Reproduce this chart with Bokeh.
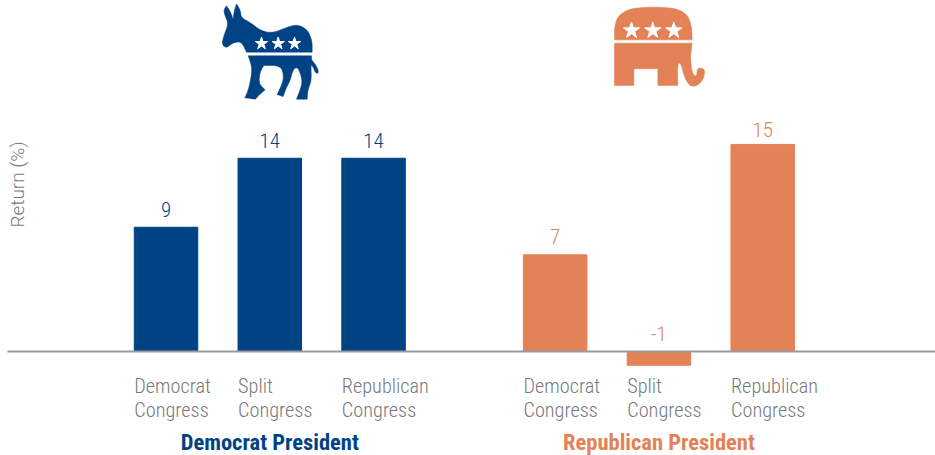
from bokeh.core.properties import value
from bokeh.embed import file_html
from bokeh.models import ColumnDataSource, Range1d
from bokeh.plotting import figure
from bokeh.resources import INLINE

# Average returns by presidency and make-up of Congress
dem_first = ["Democrat", "Split", "Republican"]
rep_first = ["Democrat", "Split", "Republican"]
second_line = ["Congress", "Congress", "Congress"]
dem_values = [9, 14, 14]
rep_values = [7, -1, 15]
dem_slots = [0, 1, 2]
rep_slots = [3.75, 4.75, 5.75]
groups = ["Democrat President", "Republican President"]
y_title = "Return (%)"

BLUE = "#004385"
ORANGE = "#E38157"
GREY = "#77797C"
NARROW = value("Roboto Condensed Light")
BAR = 0.612

p = figure(width=935, height=455, output_backend="svg", toolbar_location=None,
           x_range=Range1d(-1.595, 7.415), y_range=Range1d(-7.54, 25.43),
           min_border=0, outline_line_color=None)
p.xaxis.visible = False
p.yaxis.visible = False
p.grid.visible = False
p.background_fill_color = "white"
p.extra_x_ranges["page"] = Range1d(0, 935)
p.extra_y_ranges["page"] = Range1d(455, 0)

def party(slots, vals, firsts, color, label_gaps):
    src = ColumnDataSource(dict(
        x=slots, top=vals, label=[str(v) for v in vals],
        left=[s - BAR / 2 for s in slots],
        base=[0] * len(vals), y=[max(v, 0) for v in vals],
        first=firsts, second=second_line, gap=label_gaps,
    ))
    p.vbar(x="x", top="top", bottom="base", width=BAR, color=color, source=src)
    p.text(x="x", y="y", text="label", source=src, text_color=color, text_font=NARROW,
           text_font_size="21px", text_align="center", text_baseline="middle", y_offset="gap")
    p.text(x="left", y="base", text="first", source=src, text_color=GREY, text_font=NARROW,
           text_font_size="20.3px", text_baseline="middle", y_offset=35)
    p.text(x="left", y="base", text="second", source=src, text_color=GREY, text_font=NARROW,
           text_font_size="20.3px", text_baseline="middle", y_offset=59)

party(dem_slots, dem_values, dem_first, BLUE, [-18, -18, -18])
party(rep_slots, rep_values, rep_first, ORANGE, [-18, -18, -15])

# Group captions under the middle bar of each party
p.text(x=[dem_slots[1], rep_slots[1]], y=[0, 0], text=groups, text_color=[BLUE, ORANGE],
       text_font=value("Roboto Condensed"), text_font_style="bold",
       text_font_size="22.5px", text_align="center", text_baseline="middle", y_offset=91)

# Baseline and axis title, placed on the page scale
p.segment(x0=[7], y0=[351], x1=[935], y1=[351], line_color="#97999B", line_width=2,
          x_range_name="page", y_range_name="page")
p.text(x=[17], y=[184], text=[y_title], angle=1.5708, text_color=GREY, text_font=value("Roboto Light"),
       text_font_size="19px", text_align="center", text_baseline="middle",
       x_range_name="page", y_range_name="page")

def smooth(pts, rounds=2):
    # Corner cutting; a point listed twice stays a fairly crisp corner
    for _ in range(rounds):
        out = []
        for i, (a, b) in enumerate(pts):
            c, d = pts[(i + 1) % len(pts)]
            out += [(0.75 * a + 0.25 * c, 0.75 * b + 0.25 * d), (0.25 * a + 0.75 * c, 0.25 * b + 0.75 * d)]
        pts = out
    return pts

def sharp(*pts):
    return [q for pt in pts for q in (pt, pt)]

# Donkey emblem
donkey_top = sharp((78, 16)) + [(90, 34), (97, 54)] + sharp((98, 56)) + [(101, 32)] + sharp((108, 10)) + [(120, 30), (122, 52), (150, 66),
              (180, 90), (215, 98), (260, 80), (290, 72), (320, 86), (335, 120)] + sharp((335, 155), (138, 155)) + [(122, 122),
              (95, 128), (78, 143), (64, 132), (70, 105), (84, 70), (72, 42), (70, 28)]
donkey_low = sharp((143, 166), (333, 166)) + [(333, 178), (342, 188), (352, 205), (354, 218), (345, 218), (338, 200),
              (331, 190), (333, 240), (322, 268)] + sharp((320, 296), (288, 296)) + [(300, 265), (306, 240), (292, 198),
              (277, 208), (270, 238), (256, 265)] + sharp((248, 288), (230, 282)) + [(245, 250), (250, 225), (240, 195)] + sharp((190, 195)) + [(178, 215), (175, 250)] + sharp((194, 268)) + [(175, 284)] + sharp((165, 296), (133, 292)) + [(145, 265),
              (155, 210), (150, 185)]
# Elephant emblem
elephant_top = sharp((42, 118)) + [(42, 75), (55, 42), (100, 20), (220, 20), (262, 42), (274, 82)] + sharp((275, 118))
elephant_low = sharp((42, 128), (275, 128)) + [(270, 165), (272, 200), (279, 226), (289, 226), (290, 205), (301, 202),
                (314, 208), (309, 236), (288, 258), (266, 256), (252, 230), (241, 188), (231, 188)] + sharp((232, 255), (172, 255), (172, 205), (100, 205), (100, 255), (42, 255))

def emblem(shapes, ox, oy, color):
    shapes = [smooth(s) for s in shapes]
    xs = [[ox + a / 3 for a, _ in s] for s in shapes]
    ys = [[oy + b / 3 for _, b in s] for s in shapes]
    p.patches(xs, ys, color=color, line_width=0.5, x_range_name="page", y_range_name="page")

emblem([donkey_top, donkey_low], 200, 0, BLUE)
emblem([elephant_top, elephant_low], 600, 0, ORANGE)
p.scatter(x=[261, 277.7, 294], y=[43, 43, 43], marker="star", size=13, color="white",
          x_range_name="page", y_range_name="page")
p.scatter(x=[631, 652.3, 673.3], y=[30, 30, 30], marker="star", size=17, color="white",
          x_range_name="page", y_range_name="page")

open("out.html", "w").write(file_html(p, INLINE))
